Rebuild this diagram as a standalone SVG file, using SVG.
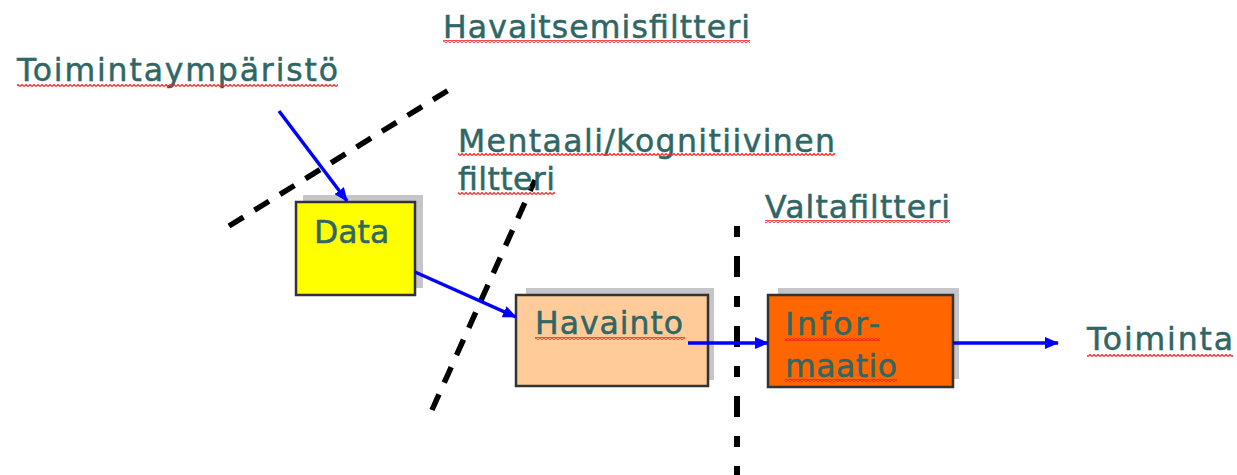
<svg xmlns="http://www.w3.org/2000/svg" width="1237" height="475" viewBox="0 0 1237 475">
<style>
.t{font-family:"DejaVu Sans","Liberation Sans",sans-serif;font-size:31.5px;fill:#2f6666;stroke:#2f6666;stroke-width:0.5}
.box{stroke:#333;stroke-width:2.5}
.sh{fill:#c6c6ca}
.dash{stroke:#000;stroke-width:5.5;fill:none;stroke-dasharray:17 13}
.arr{stroke:#0000ff;stroke-width:3.5;fill:none;marker-end:url(#ah)}
.wv{fill:url(#wave)}
</style>
<defs>
<marker id="ah" viewBox="0 0 14 12" refX="13" refY="6" markerWidth="14" markerHeight="12" markerUnits="userSpaceOnUse" orient="auto">
<path d="M0,0 L14,6 L0,12 Z" fill="#0000ff"/>
</marker>
<pattern id="wave" width="4" height="3" patternUnits="userSpaceOnUse">
<path d="M0,2.5 L2,0.5 L4,2.5" stroke="#ff2222" stroke-width="1.2" fill="none"/>
</pattern>
</defs>
<rect width="1237" height="475" fill="#fff"/>
<g id="filters">
<line class="dash" x1="229" y1="226" x2="452" y2="88"/>
<line class="dash" x1="432" y1="410" x2="535" y2="180"/>
<line class="dash" x1="737" y1="226" x2="737" y2="475" style="stroke-width:6;stroke-dasharray:11 19 21 19"/>
</g>
<g id="labels">
<text class="t" x="17" y="81" textLength="321" lengthAdjust="spacing">Toimintaympäristö</text>
<rect class="wv" x="17" y="84" width="321" height="3"/>
<text class="t" x="443" y="38" textLength="307" lengthAdjust="spacing">Havaitsemisfiltteri</text>
<rect class="wv" x="443" y="40" width="307" height="3"/>
<text class="t" x="458" y="152" textLength="377" lengthAdjust="spacing">Mentaali/kognitiivinen</text>
<rect class="wv" x="458" y="153" width="377" height="3"/>
<text class="t" x="458" y="190" textLength="97" lengthAdjust="spacing">filtteri</text>
<rect class="wv" x="458" y="192" width="97" height="3"/>
<text class="t" x="765" y="218" textLength="185" lengthAdjust="spacing">Valtafiltteri</text>
<rect class="wv" x="765" y="220" width="185" height="3"/>
<text class="t" x="1087" y="350" textLength="146" lengthAdjust="spacing">Toiminta</text>
<rect class="wv" x="1087" y="354" width="146" height="3"/>
</g>
<g id="node-data">
<rect class="sh" x="303" y="195" width="120" height="93"/>
<rect class="box" x="296" y="202" width="119" height="93" fill="#ffff00"/>
<text class="t" x="314" y="243">Data</text>
</g>
<g id="node-havainto">
<rect class="sh" x="526" y="288" width="188" height="92"/>
<rect class="box" x="516" y="295" width="192" height="91" fill="#ffcc99"/>
<text class="t" x="535" y="334" textLength="148" lengthAdjust="spacing">Havainto</text>
<rect class="wv" x="535" y="337" width="150" height="3"/>
</g>
<g id="node-informaatio">
<rect class="sh" x="778" y="288" width="181" height="91"/>
<rect class="box" x="768" y="295" width="185" height="92" fill="#ff6600"/>
<text class="t" x="785" y="335" textLength="95" lengthAdjust="spacing">Infor-</text>
<rect class="wv" x="785" y="338" width="95" height="3"/>
<text class="t" x="785" y="377" textLength="112" lengthAdjust="spacing">maatio</text>
<rect class="wv" x="785" y="379" width="112" height="3"/>
</g>
<g id="connectors">
<line class="arr" x1="279" y1="111" x2="347" y2="201"/>
<line class="arr" x1="415" y1="272" x2="516" y2="317"/>
<line class="arr" x1="688" y1="343" x2="768" y2="343"/>
<line class="arr" x1="953" y1="343" x2="1058" y2="343"/>
</g>
</svg>
